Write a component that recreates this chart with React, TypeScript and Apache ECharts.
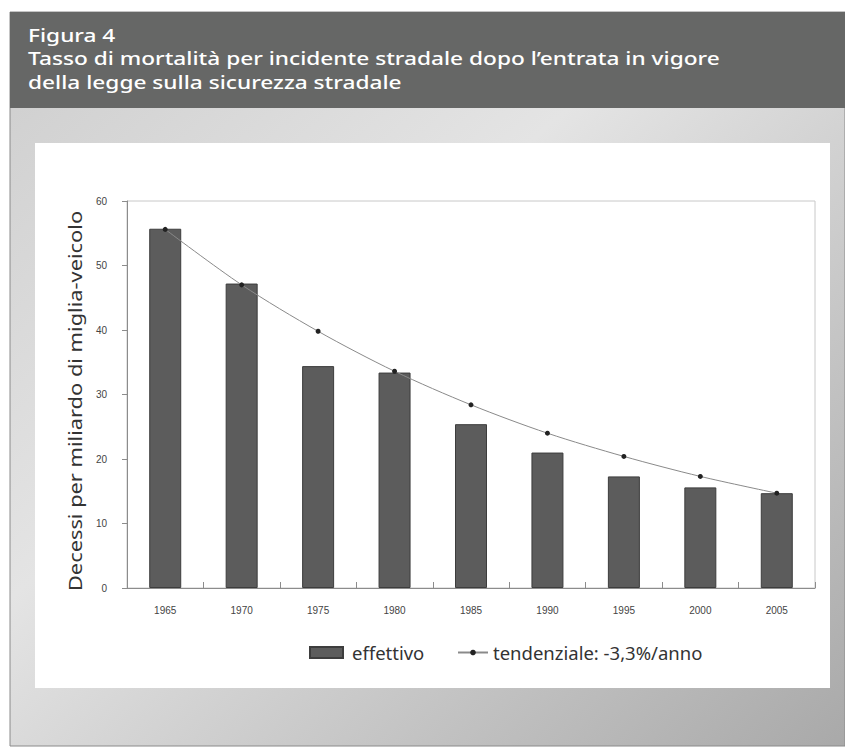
import React, { useEffect, useRef } from "react";
import * as echarts from "echarts";

const years = ["1965", "1970", "1975", "1980", "1985", "1990", "1995", "2000", "2005"];
const effettivo = [55.7, 47.2, 34.4, 33.4, 25.4, 21.0, 17.3, 15.6, 14.7];
const tendenziale = [55.6, 47.0, 39.8, 33.6, 28.4, 24.0, 20.4, 17.3, 14.7];
const titleLines = [
  "Figura 4",
  "Tasso di mortalità per incidente stradale dopo l’entrata in vigore",
  "della legge sulla sicurezza stradale",
];
const yAxisName = "Decessi per miliardo di miglia-veicolo";
const seriesNames = ["effettivo", "tendenziale: -3,3%/anno"];

export default function App() {
  const ref = useRef<HTMLDivElement>(null);
  useEffect(() => {
    if (!ref.current) return;
    const chart = echarts.init(ref.current, null, { renderer: "svg" });
    const font = "'Noto Sans', 'Open Sans', sans-serif";
    const narrow = "'Liberation Sans Narrow', 'Liberation Sans', Arial, sans-serif";
    const legendBase = {
      top: 643,
      padding: 0,
      itemGap: 20,
      textStyle: { fontFamily: font, fontSize: 18.5, color: "#333333" },
    };
    chart.setOption({
      animation: false,
      backgroundColor: "#ffffff",
      graphic: [
        {
          type: "rect",
          z: -10,
          silent: true,
          shape: { x: 10, y: 12, width: 835, height: 734 },
          style: {
            fill: {
              type: "linear",
              x: 0, y: 0, x2: 1, y2: 1,
              colorStops: [
                { offset: 0, color: "#cdcdcd" },
                { offset: 0.4, color: "#e4e4e4" },
                { offset: 1, color: "#a9a9a9" },
              ],
            },
            stroke: "#8a8a8a",
            lineWidth: 1,
          },
        },
        {
          type: "rect",
          z: -9,
          silent: true,
          shape: { x: 10, y: 12, width: 835, height: 96 },
          style: { fill: "#666766" },
        },
        {
          type: "rect",
          z: -9,
          silent: true,
          shape: { x: 35, y: 143, width: 795, height: 545 },
          style: { fill: "#ffffff" },
        },
        ...titleLines.map((t, i) => ({
          type: "text",
          z: 10,
          silent: true,
          x: 28,
          y: 34.5 + i * 23.7,
          scaleX: 1.26,
          style: {
            text: t,
            fill: "#ffffff",
            font: `500 18px ${font}`,
            textVerticalAlign: "middle",
          },
        })),
        {
          type: "text",
          z: 10,
          silent: true,
          x: 75,
          y: 401,
          rotation: Math.PI / 2,
          scaleX: 1.18,
          style: {
            text: yAxisName,
            fill: "#333333",
            font: `18.5px ${font}`,
            textAlign: "center",
            textVerticalAlign: "middle",
          },
        },
      ],
      legend: [
        {
          ...legendBase,
          left: 309,
          itemWidth: 33,
          itemHeight: 11,
          textStyle: { ...legendBase.textStyle, padding: [0, 0, 0, 4] },
          data: [{ name: seriesNames[0], icon: "rect" }],
        },
        {
          ...legendBase,
          left: 457,
          itemWidth: 30,
          itemHeight: 7,
          textStyle: { ...legendBase.textStyle, padding: [0, 0, 0, 0] },
          data: [{ name: seriesNames[1] }],
        },
      ],
      grid: {
        left: 127,
        top: 201,
        right: 30,
        bottom: 163,
        show: true,
        borderColor: "#c8c8c8",
        borderWidth: 1,
        backgroundColor: "transparent",
      },
      xAxis: {
        type: "category",
        data: years,
        axisLine: { lineStyle: { color: "#8c8c8c", width: 1 } },
        axisTick: { show: true, inside: true, length: 6, lineStyle: { color: "#8c8c8c" } },
        axisLabel: {
          fontFamily: narrow,
          fontSize: 10,
          color: "#444444",
          margin: 17,
        },
      },
      yAxis: {
        type: "value",
        min: 0,
        max: 60,
        interval: 10,
        axisLine: { show: true, lineStyle: { color: "#8c8c8c", width: 1 } },
        axisTick: { show: true, inside: false, length: 5, lineStyle: { color: "#8c8c8c" } },
        splitLine: { show: false },
        axisLabel: {
          fontFamily: narrow,
          fontSize: 10,
          color: "#444444",
          margin: 20,
        },
      },
      series: [
        {
          name: seriesNames[0],
          type: "bar",
          data: effettivo,
          barWidth: 32,
          itemStyle: { color: "#5c5c5c", borderColor: "#3d3d3d", borderWidth: 1 },
        },
        {
          name: seriesNames[1],
          type: "line",
          data: tendenziale,
          smooth: 0.3,
          symbol: "circle",
          symbolSize: 5,
          lineStyle: { color: "#8a8a8a", width: 1 },
          itemStyle: { color: "#222222" },
          z: 5,
        },
      ],
    });
    return () => chart.dispose();
  }, []);
  return (
    <div
      ref={ref}
      style={{ position: "fixed", left: 0, top: 0, width: 845, height: 751 }}
    />
  );
}
